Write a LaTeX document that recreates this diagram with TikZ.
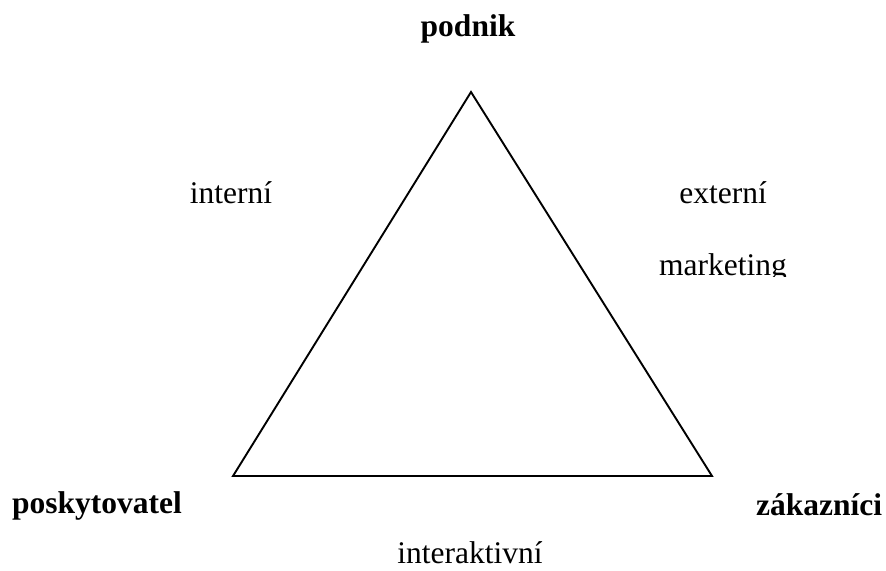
\documentclass[tikz,border=0pt]{standalone}
\usepackage{fontspec}
\setmainfont{Liberation Serif}
\usetikzlibrary{positioning}

\begin{document}
\begin{tikzpicture}[
  x=0.5pt,y=-0.5pt,
  lbl/.style={inner sep=0pt,anchor=base,font=\fontsize{15.75}{18}\selectfont},
  role/.style={lbl,font=\fontsize{15.75}{18}\selectfont\bfseries},
  side/.style={line width=0.95pt,line join=miter}
]
\useasboundingbox (0,0) rectangle (886,570);
\coordinate (top) at (471,92);
\coordinate (left) at (233,476);
\coordinate (right) at (712,476);
\draw[side] (top) -- (left) -- (right) -- cycle;
\node[role] (podnik) at (468,36) {podnik};
\node[role] (poskytovatel) at (97,513) {poskytovatel};
\node[role] (zakaznici) at (819,515) {zákazníci};
\node[lbl] (interni) at (231,203) {interní};
\node[lbl] (externi) at (723,203) {externí};
\begin{scope}
  \clip (600,240) rectangle (850,276);
  \node[lbl] (marketing) at (723,275) {marketing};
\end{scope}
\node[lbl] (interaktivni) at (470,563) {interaktivní};
\end{tikzpicture}
\end{document}
